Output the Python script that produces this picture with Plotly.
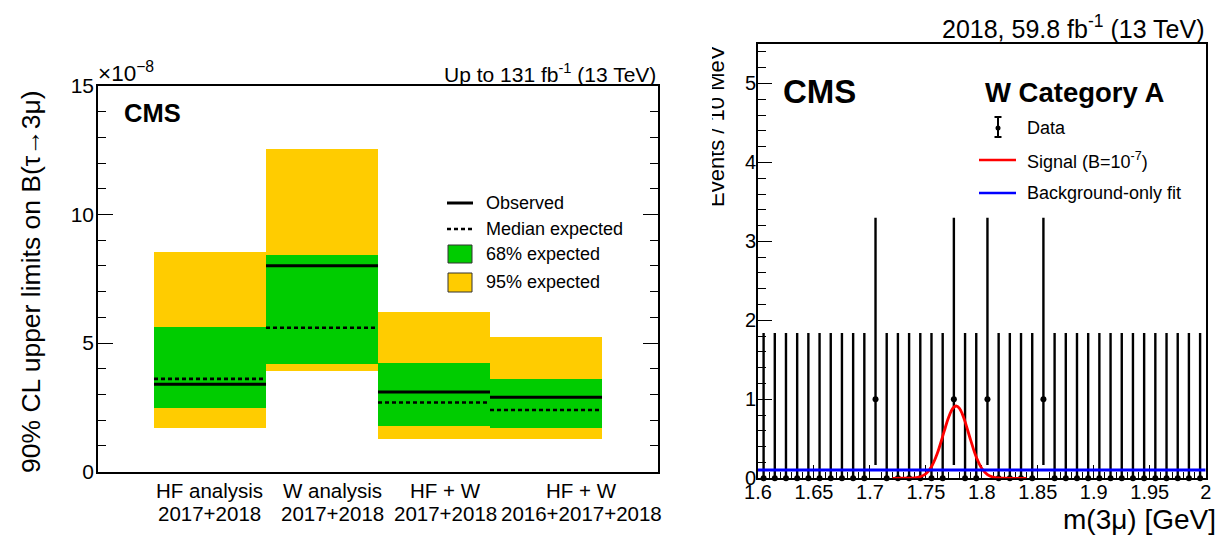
import plotly.graph_objects as go

W, H = 1222, 537
FONT = "Liberation Sans, Arial, Helvetica, sans-serif"

# ---------------- Left panel data (units of 1e-8) ----------------
cat_line1 = ["HF analysis", "W analysis", "HF + W", "HF + W"]
cat_line2 = ["2017+2018", "2017+2018", "2017+2018", "2016+2017+2018"]
observed = [3.40, 8.01, 3.10, 2.90]
expected = [3.61, 5.60, 2.69, 2.40]
band68_lo = [2.49, 4.20, 1.78, 1.70]
band68_hi = [5.63, 8.42, 4.22, 3.61]
band95_lo = [1.71, 3.91, 1.29, 1.29]
band95_hi = [8.53, 12.54, 6.22, 5.24]
left_yticks = [0, 5, 10, 15]

# ---------------- Right panel data ----------------
bin_centers = [1.605, 1.615, 1.625, 1.635, 1.645, 1.655, 1.665, 1.675, 1.685, 1.695,
               1.705, 1.715, 1.725, 1.735, 1.745, 1.755, 1.765, 1.775, 1.785, 1.795,
               1.805, 1.815, 1.825, 1.835, 1.845, 1.855, 1.865, 1.875, 1.885, 1.895,
               1.905, 1.915, 1.925, 1.935, 1.945, 1.955, 1.965, 1.975, 1.985, 1.995]
counts = [0, 0, 0, 0, 0, 0, 0, 0, 0, 0,
          1, 0, 0, 0, 0, 0, 0, 1, 0, 0,
          1, 0, 0, 0, 0, 1, 0, 0, 0, 0,
          0, 0, 0, 0, 0, 0, 0, 0, 0, 0]
# Poisson interval (lower, upper)
poisson_interval = {0: (0.0, 1.84), 1: (0.17, 3.30)}

signal_x = [1.72, 1.73, 1.74, 1.745, 1.75, 1.755, 1.76, 1.765, 1.7675, 1.77, 1.7725,
            1.775, 1.7775, 1.78, 1.7825, 1.785, 1.79, 1.795, 1.80, 1.805, 1.81,
            1.815, 1.82, 1.83, 1.84]
signal_y = [0.0, 0.001, 0.005, 0.019, 0.058, 0.147, 0.307, 0.531, 0.65, 0.760, 0.848,
            0.901, 0.915, 0.885, 0.816, 0.718, 0.483, 0.269, 0.124, 0.047, 0.015,
            0.004, 0.001, 0.0, 0.0]
bkg_x = [1.60, 2.00]
bkg_y = [0.105, 0.105]

right_xticks = [1.6, 1.65, 1.7, 1.75, 1.8, 1.85, 1.9, 1.95, 2.0]
right_xticktext = ["1.6", "1.65", "1.7", "1.75", "1.8", "1.85", "1.9", "1.95", "2"]
right_yticks = [0, 1, 2, 3, 4, 5]

YELLOW = "#ffcc00"
GREEN = "#00cc00"


def px(x):
    return x / W


def py(y):
    return 1 - y / H


fig = go.Figure()

# ----- left panel traces -----
xs = [i + 1 for i in range(len(observed))]
fig.add_trace(go.Bar(x=xs, base=band95_lo,
                     y=[h - l for h, l in zip(band95_hi, band95_lo)],
                     width=1.0, marker=dict(color=YELLOW, line=dict(width=0)),
                     xaxis="x", yaxis="y", showlegend=False, hoverinfo="skip"))
fig.add_trace(go.Bar(x=xs, base=band68_lo,
                     y=[h - l for h, l in zip(band68_hi, band68_lo)],
                     width=1.0, marker=dict(color=GREEN, line=dict(width=0)),
                     xaxis="x", yaxis="y", showlegend=False, hoverinfo="skip"))

ox, oy, ex, ey = [], [], [], []
for xc, o, e in zip(xs, observed, expected):
    ox += [xc - 0.5, xc + 0.5, None]
    oy += [o, o, None]
    ex += [xc - 0.5, xc + 0.5, None]
    ey += [e, e, None]
fig.add_trace(go.Scatter(x=ex, y=ey, mode="lines",
                         line=dict(color="black", width=2.6, dash="4px,3px"),
                         xaxis="x", yaxis="y", showlegend=False, hoverinfo="skip"))
fig.add_trace(go.Scatter(x=ox, y=oy, mode="lines",
                         line=dict(color="black", width=3),
                         xaxis="x", yaxis="y", showlegend=False, hoverinfo="skip"))

# ----- right panel traces -----
lo = [poisson_interval[c][0] for c in counts]
hi = [poisson_interval[c][1] for c in counts]
fig.add_trace(go.Scatter(
    x=bin_centers, y=counts, mode="markers",
    marker=dict(color="black", size=6, symbol="circle"),
    error_y=dict(type="data", symmetric=False,
                 array=[h - c for h, c in zip(hi, counts)],
                 arrayminus=[c - l for c, l in zip(counts, lo)],
                 color="black", thickness=2.4, width=0),
    cliponaxis=False, xaxis="x2", yaxis="y2", showlegend=False, hoverinfo="skip"))
fig.add_trace(go.Scatter(x=signal_x, y=signal_y, mode="lines",
                         line=dict(color="#ff0000", width=2.8, shape="spline"),
                         cliponaxis=False, xaxis="x2", yaxis="y2",
                         showlegend=False, hoverinfo="skip"))
fig.add_trace(go.Scatter(x=bkg_x, y=bkg_y, mode="lines",
                         line=dict(color="#0000ff", width=3),
                         xaxis="x2", yaxis="y2", showlegend=False, hoverinfo="skip"))

axis_font = dict(family=FONT, size=21, color="black")

fig.update_layout(
    width=W, height=H,
    margin=dict(l=0, r=0, t=0, b=0, pad=0, autoexpand=False),
    autosize=False,
    paper_bgcolor="white", plot_bgcolor="white",
    barmode="overlay", bargap=0, showlegend=False,
    font=dict(family=FONT, color="black"),
    xaxis=dict(domain=[px(98), px(658)], range=[0, 5], showgrid=False, zeroline=False,
               showline=True, linecolor="black", linewidth=1.5, mirror=True,
               ticks="", showticklabels=False, anchor="y", automargin=False),
    yaxis=dict(domain=[py(471.7), py(86)], range=[0, 15], showgrid=False, zeroline=False,
               showline=True, linecolor="black", linewidth=1.5, mirror="allticks",
               tickmode="array", tickvals=left_yticks,
               ticks="inside", ticklen=15, tickwidth=1.2, tickcolor="black",
               minor=dict(dtick=1, ticks="inside", ticklen=8, tickwidth=1.2,
                          tickcolor="black", showgrid=False),
               tickfont=axis_font, ticklabelstandoff=-2, anchor="x", automargin=False),
    xaxis2=dict(domain=[px(758), px(1205.7)], range=[1.6, 2.0], showgrid=False,
                zeroline=False, showline=True, linecolor="black", linewidth=2,
                mirror=True, tickmode="array", tickvals=right_xticks,
                ticktext=right_xticktext, ticks="inside", ticklen=13, tickwidth=1.3,
                tickcolor="black",
                minor=dict(dtick=0.01, ticks="inside", ticklen=6, tickwidth=1.2,
                           tickcolor="black", showgrid=False),
                tickfont=dict(family=FONT, size=20, color="black"),
                ticklabelstandoff=-5,
                anchor="y2", layer="below traces", automargin=False),
    yaxis2=dict(domain=[py(478.3), py(44)], range=[0, 5.5], showgrid=False,
                zeroline=False, showline=True, linecolor="black", linewidth=2,
                mirror=True, tickmode="array", tickvals=right_yticks,
                ticks="inside", ticklen=14, tickwidth=1.3, tickcolor="black",
                minor=dict(dtick=0.2, ticks="inside", ticklen=8, tickwidth=1.2,
                           tickcolor="black", showgrid=False),
                tickfont=dict(family=FONT, size=20, color="black"),
                ticklabelstandoff=-4,
                anchor="x2", layer="below traces", automargin=False),
)

ann = []


def text(x, y, t, size, xanchor="center", yanchor="middle", bold=False, angle=0, **kw):
    d = dict(x=px(x), y=py(y), xref="paper", yref="paper", text=t, showarrow=False,
             xanchor=xanchor, yanchor=yanchor, textangle=angle,
             font=dict(family=FONT, size=size, color="black",
                       weight="bold" if bold else "normal"))
    d.update(kw)
    ann.append(d)


# left panel texts
text(31, 282, "90% CL upper limits on B(τ→3μ)", 26.5, angle=-90)
text(96, 72, "×10<sup>−8</sup>", 22.5, xanchor="left")
text(658, 73, "Up to 131 fb<sup>-1</sup> (13 TeV)", 21, xanchor="right")
text(152, 113, "CMS", 25.5, bold=True)

label_shift = [-0.5, 10.5, 11, 35]
for i, (l1, l2) in enumerate(zip(cat_line1, cat_line2)):
    for t, yy in ((l1, 490), (l2, 513)):
        ann.append(dict(x=xs[i], y=py(yy), xref="x", yref="paper", text=t,
                        showarrow=False, xanchor="center", yanchor="middle",
                        xshift=label_shift[i],
                        font=dict(family=FONT, size=20.5, color="black")))

legend_left = [("Observed", 203), ("Median expected", 229),
               ("68% expected", 254), ("95% expected", 282)]
for t, yy in legend_left:
    text(484, yy, t, 18, xanchor="left")

# right panel texts
text(1207, 27, "2018, 59.8 fb<sup>-1</sup> (13 TeV)", 25, xanchor="right")
text(820, 91, "CMS", 33, bold=True)
text(983, 92, "W Category A", 27.5, xanchor="left", bold=True)
text(1025, 128, "Data", 18, xanchor="left")
text(1025, 160, "Signal (B=10<sup>-7</sup>)", 18, xanchor="left")
text(1025, 193, "Background-only fit", 18, xanchor="left")
text(1218, 519, "m(3μ) [GeV]", 28, xanchor="right")
text(717, 126, "Events / 10 MeV", 22, angle=-90)
# the reference crops the left edge of this title
ann.append(dict(x=px(703), y=py(126), xref="paper", yref="paper", text=".",
                showarrow=False, width=18, height=200, bgcolor="white",
                borderpad=0, borderwidth=0, xanchor="center", yanchor="middle",
                font=dict(family=FONT, size=8, color="white")))

fig.update_layout(annotations=ann)

shapes = []
# left legend symbols
shapes.append(dict(type="line", xref="paper", yref="paper", x0=px(447), x1=px(473),
                   y0=py(203), y1=py(203), line=dict(color="black", width=3)))
shapes.append(dict(type="line", xref="paper", yref="paper", x0=px(447), x1=px(473),
                   y0=py(229), y1=py(229),
                   line=dict(color="black", width=2.6, dash="4px,3px")))
shapes.append(dict(type="rect", xref="paper", yref="paper", x0=px(448), x1=px(472),
                   y0=py(263), y1=py(245), fillcolor=GREEN,
                   line=dict(color="#333333", width=1)))
shapes.append(dict(type="rect", xref="paper", yref="paper", x0=px(448), x1=px(472),
                   y0=py(292), y1=py(273), fillcolor=YELLOW,
                   line=dict(color="#333333", width=1)))
# right legend symbols
shapes.append(dict(type="line", xref="paper", yref="paper", x0=px(998), x1=px(998),
                   y0=py(117), y1=py(137), line=dict(color="black", width=2)))
for yy in (117, 137):
    shapes.append(dict(type="line", xref="paper", yref="paper", x0=px(994.5),
                       x1=px(1001.5), y0=py(yy), y1=py(yy),
                       line=dict(color="black", width=2)))
shapes.append(dict(type="circle", xref="paper", yref="paper", x0=px(995.5),
                   x1=px(1000.5), y0=py(130.5), y1=py(125.5), fillcolor="black",
                   line=dict(color="black", width=0)))
shapes.append(dict(type="line", xref="paper", yref="paper", x0=px(979), x1=px(1016),
                   y0=py(160), y1=py(160), line=dict(color="#ff0000", width=2.5)))
shapes.append(dict(type="line", xref="paper", yref="paper", x0=px(979), x1=px(1016),
                   y0=py(193), y1=py(193), line=dict(color="#0000ff", width=2.5)))
fig.update_layout(shapes=shapes)

fig.write_html("out.html")
